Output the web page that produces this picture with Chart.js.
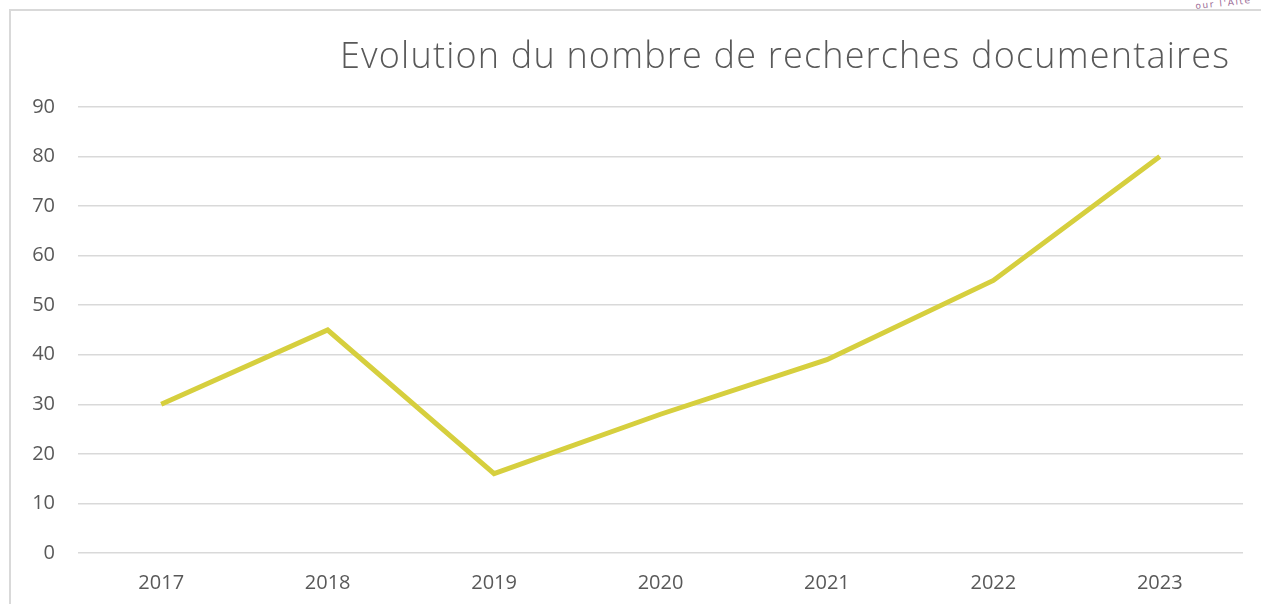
<!DOCTYPE html>
<html>
<head>
<meta charset="utf-8">
<script src="https://cdn.jsdelivr.net/npm/chart.js@4/dist/chart.umd.min.js"></script>
<style>
  html, body { margin: 0; padding: 0; background: #fff; overflow: hidden; }
  #wrap { position: absolute; left: 0; top: 0; width: 1261px; height: 604px; }
  #frame { position: absolute; left: 9px; top: 9px; width: 1260px; height: 600px;
           border-left: 2px solid #d9d9d9; border-top: 2px solid #d9d9d9; box-sizing: border-box; }
  #logo { position: absolute; left: 1196px; top: 2px; font-family: "DejaVu Sans", sans-serif;
          font-size: 9px; line-height: 9px; color: #9a6a95; letter-spacing: 1.6px; transform: rotate(-6deg); transform-origin: left bottom; white-space: nowrap; }
  canvas { position: absolute; left: 0; top: 0; }
</style>
</head>
<body>
<div id="wrap">
  <div id="frame"></div>
  <div id="logo">our l'Alte</div>
  <canvas id="c" width="1261" height="604"></canvas>
</div>
<script>
const titleText = "Evolution du nombre de recherches documentaires";
const categories = ["2017", "2018", "2019", "2020", "2021", "2022", "2023"];
const rechercheValues = [30, 45, 16, 28, 39, 55, 80];
const yTicks = [0, 10, 20, 30, 40, 50, 60, 70, 80, 90];

const FONT = "'Open Sans', Lato, sans-serif";
const TEXT = "#595959";

const titlePlugin = {
  id: 'rightTitle',
  afterDraw(chart) {
    const ctx = chart.ctx;
    ctx.save();
    ctx.font = "300 36px " + FONT;
    ctx.fillStyle = TEXT;
    ctx.textAlign = 'right';
    ctx.textBaseline = 'alphabetic';
    const target = 889;
    const w = ctx.measureText(titleText).width;
    const sp = Math.max(0, (target - w) / (titleText.length - 1));
    ctx.letterSpacing = sp.toFixed(2) + 'px';
    ctx.fillText(titleText, chart.chartArea.right - 14 + sp, 68);
    ctx.restore();
  }
};

new Chart(document.getElementById('c'), {
  type: 'line',
  data: {
    labels: categories,
    datasets: [{
      data: rechercheValues,
      borderColor: '#d6cf3e',
      borderWidth: 5,
      pointRadius: 0,
      pointHoverRadius: 0,
      tension: 0,
      fill: false
    }]
  },
  options: {
    responsive: false,
    animation: false,
    events: [],
    layout: { padding: { top: 107, right: 18, left: 0, bottom: 0 } },
    plugins: { legend: { display: false }, title: { display: false }, tooltip: { enabled: false } },
    scales: {
      x: {
        offset: true,
        grid: { display: false, drawTicks: false },
        border: { display: false },
        ticks: { color: TEXT, font: { family: FONT, size: 20 }, padding: 18, maxRotation: 0 },
        afterFit(scale) { scale.height = 51; }
      },
      y: {
        min: 0, max: 90,
        afterBuildTicks(scale) { scale.ticks = yTicks.map(v => ({ value: v })); },
        grid: { color: '#d9d9d9', lineWidth: 1.5, drawTicks: false },
        border: { display: false },
        ticks: { color: TEXT, font: { family: FONT, size: 20 }, padding: 23 },
        afterFit(scale) { scale.width = 78; }
      }
    }
  },
  plugins: [titlePlugin]
});
</script>
</body>
</html>
